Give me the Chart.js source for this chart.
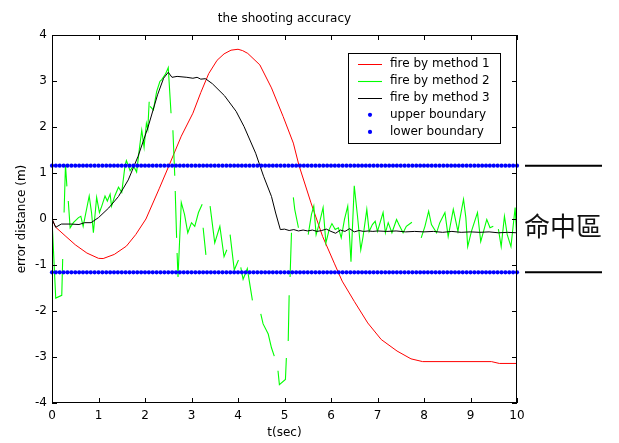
<!DOCTYPE html>
<html>
<head>
<meta charset="utf-8">
<script src="https://cdn.jsdelivr.net/npm/chart.js@4"></script>
<style>
  html, body { margin: 0; padding: 0; background: #fff; }
  canvas { display: block; }
</style>
</head>
<body>
<canvas id="chart" width="619" height="443"></canvas>
<script>
// fire by method 1 (red)
const t1 = [0, 0.08, 0.3, 0.5, 0.75, 1.0, 1.1, 1.34, 1.6, 1.8,
            2.02, 2.31, 2.52, 2.78, 3.03, 3.2, 3.37, 3.55, 3.7, 3.85,
            4.0, 4.1, 4.21, 4.47, 4.72, 4.97, 5.19, 5.31, 5.57, 5.82,
            6.07, 6.24, 6.5, 6.79, 7.08, 7.42, 7.72, 7.97, 9.45, 9.62,
            10];
const v1 = [0, -0.18, -0.38, -0.56, -0.74, -0.855, -0.86, -0.77, -0.59, -0.34,
            0, 0.67, 1.17, 1.80, 2.30, 2.75, 3.16, 3.45, 3.59, 3.67,
            3.69, 3.66, 3.60, 3.35, 2.85, 2.23, 1.65, 1.17, 0.35, -0.38,
            -0.96, -1.35, -1.79, -2.26, -2.62, -2.87, -3.04, -3.10, -3.10, -3.14,
            -3.14];

// fire by method 2 (green), null = break in the trace
const t2 = [0, 0.08, 0.21, 0.23, 0.245, 0.26, 0.29, 0.32, 0.335, 0.35,
            0.39, 0.46, 0.57, 0.62, 0.67, 0.80, 0.85, 0.89, 0.96, 1.02,
            1.07, 1.14, 1.19, 1.25, 1.28, 1.35, 1.43, 1.50, 1.57, 1.60,
            1.68, 1.75, 1.82, 1.88, 1.93, 1.98, 2.03, 2.06, 2.09, 2.10,
            2.11, 2.18, 2.25, 2.32, 2.36, 2.44, 2.50, 2.56, 2.58, 2.60,
            2.64, 2.645, 2.65, 2.68, 2.685, 2.69, 2.71, 2.78, 2.85, 2.92,
            3.00, 3.07, 3.15, 3.23, 3.24, 3.25, 3.31, 3.35, 3.40, 3.50,
            3.61, 3.70, 3.76, 3.80, 3.83, 3.92, 4.01, 4.03, 4.06, 4.11,
            4.20, 4.31, 4.40, 4.49, 4.54, 4.65, 4.72, 4.78, 4.82, 4.86,
            4.89, 5.02, 5.04, 5.06, 5.08, 5.10, 5.11, 5.12, 5.15, 5.17,
            5.19, 5.22, 5.30, 5.40, 5.51, 5.58, 5.63, 5.68, 5.76, 5.83,
            5.89, 5.96, 6.02, 6.09, 6.16, 6.22, 6.29, 6.36, 6.43, 6.50,
            6.57, 6.64, 6.69, 6.77, 6.82, 6.89, 6.95, 7.00, 7.12, 7.17,
            7.23, 7.31, 7.41, 7.46, 7.55, 7.62, 7.74, 7.85, 7.94, 8.02,
            8.10, 8.16, 8.27, 8.34, 8.45, 8.52, 8.63, 8.73, 8.77, 8.85,
            8.90, 8.94, 9.02, 9.15, 9.22, 9.35, 9.42, 9.49, 9.55, 9.60,
            9.66, 9.73, 9.79, 9.87, 9.96, 10.0];
const v2 = [0, -1.72, -1.66, -0.87, null, 0.14, 1.18, 0.71, null, 0.39,
            -0.19, -0.08, 0.03, 0.06, -0.16, 0.50, 0.14, -0.30, 0.47, 0.14,
            0.28, 0.50, 0.39, 0.54, 0.28, 0.50, 0.69, 0.58, 1.16, 1.27,
            1.05, 1.16, 1.02, 1.53, 1.93, 1.56, 2.08, 1.95, 2.55, null,
            2.45, 2.37, 2.77, 2.99, 3.03, 3.15, 3.29, 2.30, null, 1.93,
            0.94, null, 0.61, -0.41, null, -0.74, -1.26, 0.36, 0.10, -0.30,
            -0.08, -0.16, 0.14, 0.32, null, -0.19, -0.78, null, 0.28, -0.52,
            -0.16, -0.82, -0.67, null, -0.34, -1.11, -0.89, null, -1.05, -1.31,
            -1.08, -1.77, null, -2.06, -2.28, -2.50, -2.80, -2.98, null, -3.30,
            -3.60, -3.49, -3.02, null, -2.65, -1.66, null, -1.26, -0.30, null,
            0.47, 0.21, -0.19, null, -0.34, 0.10, 0.28, -0.34, -0.05, 0.25,
            -0.52, -0.23, -0.10, -0.23, -0.19, -0.41, -0.01, 0.28, -0.93, 0.72,
            0.06, -0.67, -0.38, 0.21, -0.27, -0.12, -0.05, -0.27, 0.14, -0.30,
            -0.08, -0.30, -0.01, -0.12, -0.30, -0.16, -0.07, null, -0.41, -0.16,
            0.17, -0.12, -0.30, -0.08, 0.14, -0.38, 0.21, -0.27, -0.01, 0.43,
            0.03, -0.60, -0.27, 0.14, -0.49, -0.01, -0.19, -0.16, null, -0.22,
            -0.60, 0.06, -0.34, -0.60, 0.25, -0.52];

// fire by method 3 (black)
const t3 = [0, 0.08, 0.2, 0.4, 0.58, 0.7, 0.84, 1.0,
            1.22, 1.43, 1.64, 1.85, 2.06, 2.27, 2.4, 2.5,
            2.58, 2.69, 2.9, 3.03, 3.12, 3.2, 3.3, 3.45,
            3.71, 3.96, 4.13, 4.38, 4.55, 4.72, 4.81, 4.91,
            5.0, 5.1, 5.2, 5.3, 5.4, 5.5, 5.6, 5.7, 5.8, 5.9,
            6.0, 6.1, 6.2, 6.3, 6.4, 6.5, 6.6, 6.7, 6.8, 6.9,
            7.0, 7.2, 7.4, 7.6, 7.8,
            8.0, 8.2, 8.4, 8.6, 8.8,
            9.0, 9.2, 9.4, 9.6, 9.8, 10];
const v3 = [0, -0.18, -0.11, -0.11, -0.12, -0.08, -0.08, 0.03,
            0.24, 0.49, 0.85, 1.36, 1.98, 2.70, 3.06, 3.19,
            3.08, 3.10, 3.08, 3.06, 3.08, 3.04, 3.05, 2.94,
            2.68, 2.34, 2.01, 1.43, 0.93, 0.49, 0.13, -0.23,
            -0.22, -0.25, -0.23, -0.26, -0.24, -0.26, -0.24, -0.27, -0.25, -0.22,
            -0.27, -0.31, -0.24, -0.27, -0.21, -0.28, -0.25, -0.27, -0.26, -0.27,
            -0.26, -0.27, -0.26, -0.28, -0.27,
            -0.28, -0.27, -0.29, -0.27, -0.29,
            -0.28, -0.29, -0.28, -0.30, -0.29, -0.30];

// boundaries (dotted markers)
const boundaryT = Array.from({length: 121}, (_, i) => i / 12);
const upperBound = 1.16;
const lowerBound = -1.16;

const xTicks = [0, 1, 2, 3, 4, 5, 6, 7, 8, 9, 10];
const yTicks = [-4, -3, -2, -1, 0, 1, 2, 3, 4];
const zoneLabel = '命中區';

const toPoints = (ts, vs) => ts.map((t, i) => ({x: t, y: vs[i]}));

Chart.defaults.font.family = "'DejaVu Sans', sans-serif";
Chart.defaults.font.size = 12;
Chart.defaults.color = '#000';

// box, inward ticks, zone marks and legend, all placed with the chart scales
const matlabFrame = {
    id: 'matlabFrame',
    afterDatasetsDraw(chart) {
        const {ctx, chartArea: a, scales: {x, y}} = chart;
        ctx.save();
        ctx.strokeStyle = '#000';
        ctx.lineWidth = 1;
        ctx.beginPath();
        xTicks.forEach(v => {
            const px = Math.round(x.getPixelForValue(v)) + 0.5;
            ctx.moveTo(px, a.bottom); ctx.lineTo(px, a.bottom - 5);
            ctx.moveTo(px, a.top); ctx.lineTo(px, a.top + 5);
        });
        yTicks.forEach(v => {
            const py = Math.round(y.getPixelForValue(v)) + 0.5;
            ctx.moveTo(a.left, py); ctx.lineTo(a.left + 5, py);
            ctx.moveTo(a.right, py); ctx.lineTo(a.right - 5, py);
        });
        ctx.stroke();
        ctx.strokeRect(a.left + 0.5, a.top + 0.5, a.width - 1, a.height - 1);

        // zone marks on the right
        const yu = y.getPixelForValue(upperBound);
        const yl = y.getPixelForValue(lowerBound);
        ctx.lineWidth = 2;
        ctx.beginPath();
        ctx.moveTo(a.right + 8, yu); ctx.lineTo(a.right + 85, yu);
        ctx.moveTo(a.right + 8, yl); ctx.lineTo(a.right + 85, yl);
        ctx.stroke();
        ctx.fillStyle = '#111';
        ctx.font = "26px 'Noto Sans CJK TC'";
        ctx.textAlign = 'left';
        ctx.textBaseline = 'middle';
        ctx.fillText(zoneLabel, a.right + 7, (yu + yl) / 2 + 7);

        // legend
        const lx = 348, ly = 53, lw = 152, lh = 90;
        ctx.fillStyle = '#fff';
        ctx.fillRect(lx, ly, lw, lh);
        ctx.lineWidth = 1;
        ctx.strokeStyle = '#000';
        ctx.strokeRect(lx + 0.5, ly + 0.5, lw, lh);
        ctx.font = "12px 'DejaVu Sans'";
        chart.data.datasets.forEach((ds, i) => {
            const cy = 63.5 + i * 17.1;
            if (ds.showLine === false) {
                ctx.fillStyle = ds.pointBackgroundColor;
                ctx.beginPath();
                ctx.arc(370, cy, 2.1, 0, Math.PI * 2);
                ctx.fill();
            } else {
                ctx.strokeStyle = ds.borderColor;
                ctx.lineWidth = ds.borderWidth;
                ctx.beginPath();
                ctx.moveTo(358, Math.round(cy) + 0.5);
                ctx.lineTo(382, Math.round(cy) + 0.5);
                ctx.stroke();
            }
            ctx.fillStyle = '#000';
            ctx.fillText(ds.label, 390, cy);
        });
        ctx.restore();
    }
};

new Chart(document.getElementById('chart'), {
    type: 'line',
    data: {
        datasets: [{
            label: 'fire by method 1',
            data: toPoints(t1, v1),
            borderColor: '#ff0000',
            borderWidth: 1,
            pointRadius: 0,
            order: 5
        }, {
            label: 'fire by method 2',
            data: toPoints(t2, v2),
            borderColor: '#00ff00',
            borderWidth: 1.1,
            pointRadius: 0,
            spanGaps: false,
            order: 4
        }, {
            label: 'fire by method 3',
            data: toPoints(t3, v3),
            borderColor: '#000000',
            borderWidth: 1,
            pointRadius: 0,
            order: 3
        }, {
            label: 'upper boundary',
            data: boundaryT.map(t => ({x: t, y: upperBound})),
            showLine: false,
            pointRadius: 2.1,
            pointBackgroundColor: '#0000ff',
            pointBorderWidth: 0,
            clip: false,
            order: 2
        }, {
            label: 'lower boundary',
            data: boundaryT.map(t => ({x: t, y: lowerBound})),
            showLine: false,
            pointRadius: 2.1,
            pointBackgroundColor: '#0000ff',
            pointBorderWidth: 0,
            clip: false,
            order: 1
        }]
    },
    options: {
        responsive: false,
        animation: false,
        layout: {padding: {left: 0, right: 102, top: 0, bottom: 0}},
        elements: {line: {tension: 0}},
        plugins: {
            legend: {display: false},
            tooltip: {enabled: false},
            title: {
                display: true,
                text: 'the shooting accuracy',
                fullSize: false,
                font: {size: 12, weight: 'normal'},
                color: '#000',
                padding: {top: 12, bottom: 8.6}
            }
        },
        scales: {
            x: {
                type: 'linear',
                min: 0,
                max: 10,
                afterBuildTicks: s => { s.ticks = xTicks.map(v => ({value: v})); },
                ticks: {padding: 6, maxRotation: 0, autoSkip: false},
                grid: {display: false, drawTicks: false},
                border: {display: false},
                title: {display: true, text: 't(sec)', padding: {top: 0, bottom: 3}},
                afterFit: s => { s.height = 40; }
            },
            y: {
                min: -4,
                max: 4,
                afterBuildTicks: s => { s.ticks = yTicks.map(v => ({value: v})); },
                ticks: {padding: 5},
                grid: {display: false, drawTicks: false},
                border: {display: false},
                title: {display: true, text: 'error distance (m)', padding: {top: 15, bottom: 0}},
                afterFit: s => { s.width = 52; }
            }
        }
    },
    plugins: [matlabFrame]
});
</script>
</body>
</html>
